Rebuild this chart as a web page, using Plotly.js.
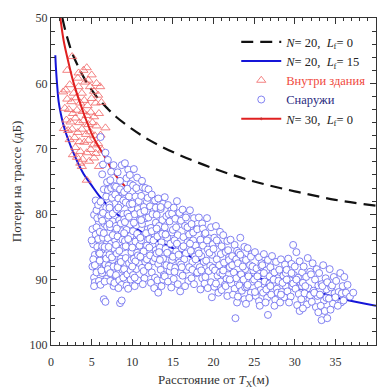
<!DOCTYPE html>
<html>
<head>
<meta charset="utf-8">
<script src="https://cdn.plot.ly/plotly-3.0.1.min.js"></script>
<style>html,body{margin:0;padding:0;background:#fff;}#chart{width:381px;height:389px;}</style>
</head>
<body>
<div id="chart"></div>
<script>
// Curve N=20, Lf=0 (black dashed)
const n20lf0D = [1.4,1.7,2,2.5,3,4,5,6,7,8,10,12,15,20,25,30,35,40];
const n20lf0L = [50,51.6,53,55,56.5,59,61,62.6,63.9,65.1,67,68.6,70.5,73,75,76.5,77.8,78.7];
// Curve N=20, Lf=15 (blue)
const n20lf15D = [0.53,0.6,0.74,0.94,1.2,1.5,2,3,4,5,6,7.75,10,12.7,15,17.2,20,22.1,25,28.3,30,33.2,36,40];
const n20lf15L = [55.7,57.5,60,62.8,64.6,66.2,68.2,71.3,73.8,75.6,77.3,79.6,81.8,83.8,85.2,86.5,87.8,88.6,89.6,90.6,91.2,92.1,93,94];
// Curve N=30, Lf=0 (red)
const n30lf0D = [1.15,1.55,2.0,2.8,4.0,5.2,6.7,7.5,8.1,9.3];
const n30lf0L = [50,53.4,56,60,64.5,68.2,71.4,73.2,74.3,76.0];
// Inside building (triangles)
const insideD = [2.6,2.0,4.0,4.4,5.0,3.3,4.6,5.6,6.05,1.5,1.8,2.3,2.8,3.4,3.8,4.2,4.8,5.3,5.8,2.0,2.5,3.1,3.6,4.1,4.5,5.0,5.5,6.2,1.7,2.2,2.7,3.2,3.9,4.4,4.9,5.3,5.9,1.9,2.4,3.0,3.5,4.0,4.6,5.1,5.6,6.7,2.1,2.6,3.3,3.8,4.3,4.8,5.4,6.1,2.3,2.9,3.5,4.1,4.6,5.2,5.8,3.0,3.6,4.4,4.9,5.5,6.3,3.2,3.9,4.7,5.3,3.6,3.8,5.9,4.4,2.7,1.6,3.4];
const insideL = [55.9,58.0,58.0,57.6,58.7,59.2,59.5,60.0,60.5,61.3,61.0,60.2,61.5,60.5,61.5,59.8,60.5,61.2,61.8,62.4,62.8,62.2,63.0,62.6,63.4,62.3,63.0,62.9,63.8,64.0,64.6,64.1,64.3,64.9,64.4,65.1,64.6,65.6,65.9,65.3,66.0,65.7,66.3,66.0,66.5,66.8,67.2,67.0,67.5,67.0,67.8,67.4,68.0,67.9,68.6,68.3,68.9,69.0,68.7,69.4,69.2,69.8,70.4,70.6,70.1,70.7,70.2,71.3,71.6,71.9,71.4,72.2,72.7,72.7,74.8,70.9,66.9,58.4];
// Outside (circles)
const outsideD = [
5.1,5.3,5.2,5.4,5.1,5.3,5.6,5.5,5.7,5.8,5.4,5.9,5.6,5.2,5.8,5.5,5.9,5.7,5.3,5.9,5.6,5.0,5.8,5.4,
6.1,6.7,6.3,6.5,6.1,6.8,6.2,6.6,6.0,6.4,6.9,6.2,6.7,6.0,6.5,6.3,6.8,6.1,6.6,6.4,6.9,6.3,6.0,6.7,6.2,6.8,6.5,6.9,6.4,6.6,6.5,6.7,6.3,6.8,
7.0,7.3,7.7,7.0,7.5,7.2,7.8,7.1,7.6,7.3,7.9,7.0,7.4,7.8,7.2,7.6,7.1,7.5,7.9,7.3,7.7,7.4,7.9,7.6,7.2,7.9,7.5,7.0,7.8,7.4,7.1,7.6,7.3,7.8,7.2,7.7,
8.7,8.2,8.5,8.0,8.8,8.3,8.6,8.1,8.9,8.4,8.0,8.7,8.2,8.5,8.9,8.1,8.6,8.3,8.8,8.0,8.4,8.7,8.5,8.7,8.3,8.9,8.6,8.0,8.4,8.8,8.2,8.9,8.5,8.1,8.6,8.3,
9.1,9.5,9.3,9.8,9.0,9.6,9.2,9.9,9.4,9.0,9.7,9.3,9.8,9.1,9.5,9.9,9.2,9.6,9.0,9.4,9.8,9.3,9.7,9.1,9.5,9.9,9.4,9.6,9.2,9.8,9.0,9.5,9.7,
10.2,10.6,10.1,10.8,10.4,10.0,10.7,10.3,10.9,10.5,10.1,10.8,10.4,10.0,10.6,10.2,10.9,10.5,10.1,10.7,10.3,10.8,10.2,10.6,10.4,10.9,10.0,10.5,10.7,10.3,
11.3,11.6,11.1,11.8,11.4,11.0,11.7,11.2,11.9,11.5,11.1,11.8,11.4,11.0,11.6,11.2,11.9,11.5,11.3,11.7,11.1,11.5,11.8,11.0,11.4,11.9,11.2,
12.0,12.4,12.8,12.2,12.6,12.0,12.9,12.3,12.7,12.1,12.5,12.9,12.2,12.6,12.0,12.4,12.8,12.3,12.7,12.5,12.1,12.8,12.4,12.9,12.6,
13.2,13.8,13.5,13.0,13.7,13.3,13.9,13.1,13.6,13.4,13.0,13.8,13.2,13.5,13.9,13.1,13.6,13.2,13.7,13.4,13.0,13.8,13.5,13.3,
14.0,14.4,14.8,14.2,14.6,14.0,14.9,14.3,14.7,14.1,14.5,14.9,14.2,14.6,14.0,14.4,14.8,14.5,14.3,14.7,14.1,14.9,
15.5,15.1,15.8,15.3,15.9,15.0,15.6,15.2,15.7,15.4,15.0,15.8,15.3,15.9,15.1,15.6,15.9,15.4,15.7,15.2,15.5,
16.2,16.7,16.0,16.5,16.9,16.3,16.8,16.1,16.6,16.4,16.0,16.7,16.2,16.9,16.5,16.3,16.8,16.1,16.6,
17.1,17.6,17.3,17.9,17.0,17.5,17.8,17.2,17.7,17.4,17.0,17.9,17.3,17.6,17.8,17.1,17.5,17.4,
18.2,18.6,18.0,18.9,18.4,18.7,18.1,18.5,18.8,18.3,18.0,18.6,18.9,18.4,18.2,18.7,18.5,
19.2,19.7,19.0,19.5,19.9,19.3,19.8,19.1,19.6,19.4,19.0,19.7,19.8,19.3,19.5,19.9,19.2,
20.3,20.8,20.1,20.6,20.0,20.9,20.4,20.7,20.2,20.5,20.9,20.1,20.6,20.4,20.8,20.3,
21.2,21.7,21.0,21.5,21.9,21.3,21.8,21.1,21.6,21.4,21.0,21.7,21.9,21.2,21.5,21.8,
22.1,22.6,22.9,22.3,22.7,22.0,22.5,22.8,22.2,22.6,22.4,22.7,22.9,22.3,22.0,22.8,
23.3,23.8,23.1,23.6,23.0,23.9,23.4,23.7,23.2,23.5,23.0,23.8,23.6,23.3,23.9,
24.2,24.7,24.0,24.5,24.9,24.3,24.8,24.1,24.6,24.4,24.0,24.8,24.2,24.6,
25.1,25.6,25.9,25.3,25.7,25.0,25.5,25.8,25.2,25.6,25.4,25.9,25.1,25.7,
26.2,26.7,26.0,26.5,26.9,26.3,26.8,26.1,26.6,26.7,26.4,26.9,26.2,26.5,
27.2,27.7,27.0,27.5,27.9,27.3,27.8,27.1,27.6,27.4,27.9,27.0,27.5,
28.3,28.8,28.1,28.6,28.0,28.9,28.4,28.7,28.2,28.5,28.9,28.3,
29.8,29.2,29.6,29.0,29.9,29.4,29.7,29.1,29.5,29.3,29.8,29.0,29.6,
30.2,30.6,30.0,30.9,30.4,30.7,30.1,30.5,30.8,30.3,30.6,30.9,30.2,
31.6,31.1,31.9,31.4,31.0,31.7,31.2,31.8,31.5,31.3,31.9,31.0,
32.2,32.7,32.0,32.5,32.9,32.3,32.8,32.1,32.6,32.4,32.9,
33.5,33.0,33.8,33.3,33.9,33.1,33.6,33.2,33.3,33.7,33.9,33.4,
34.3,34.8,34.0,34.5,34.9,34.2,34.7,34.0,34.4,34.6,
35.6,35.1,35.9,35.4,35.0,35.7,35.3,35.8,
36.1,36.5,36.3,36.8,36.0,
37.2];
const outsideL = [
82.3,80.1,84.6,86.2,88.0,89.7,79.4,83.1,85.0,87.4,90.4,81.2,88.9,86.9,83.8,77.9,90.2,80.6,91.0,85.9,82.0,84.0,78.6,87.8,
68.2,70.6,73.9,76.2,78.1,79.0,80.4,81.5,82.7,83.6,84.4,85.5,86.3,87.1,88.2,89.0,89.9,90.8,90.3,79.8,81.9,84.9,86.0,87.7,88.6,77.3,82.9,75.1,72.4,85.0,93.0,93.4,81.0,86.8,
71.7,74.8,72.5,76.3,77.5,78.6,79.4,80.2,81.1,82.0,82.8,83.7,84.5,85.3,86.2,87.0,87.9,88.7,89.4,90.2,91.0,76.0,77.0,79.9,81.5,84.0,86.6,88.4,90.5,73.5,85.0,83.2,89.0,75.7,79.0,88.0,
72.5,73.6,74.9,75.8,76.7,77.6,78.5,79.3,80.0,80.9,81.8,82.6,83.4,84.3,85.1,86.0,86.8,87.7,88.5,89.3,90.1,90.8,93.6,93.2,79.0,77.9,81.4,84.7,85.6,83.9,88.1,89.7,76.2,82.2,87.3,91.3,
72.2,73.2,74.5,75.4,76.6,77.3,78.2,79.1,79.9,80.8,81.6,82.4,83.3,84.1,85.0,85.8,86.7,87.5,88.4,89.2,90.0,90.9,78.5,81.2,83.8,87.0,76.1,80.4,84.9,88.6,82.9,91.4,74.0,
73.1,74.4,75.6,76.5,77.3,78.4,79.2,80.0,80.9,81.7,82.6,83.4,84.2,85.1,85.9,86.8,87.6,88.4,89.3,90.1,91.0,78.0,81.3,83.0,87.2,84.8,88.0,76.0,86.3,89.7,
75.9,76.0,77.2,78.1,78.9,79.8,80.6,81.5,82.3,83.1,84.0,84.8,85.7,86.5,87.3,88.2,89.0,89.8,90.7,82.9,80.9,79.5,86.9,83.6,88.7,77.5,74.9,
76.2,77.0,77.9,78.8,79.6,80.5,81.3,82.1,83.0,83.8,84.7,85.5,86.3,87.2,88.0,88.9,89.7,90.5,91.3,80.0,85.1,86.7,82.6,79.0,84.0,
77.6,78.4,79.2,80.1,80.9,81.8,82.6,83.4,84.3,85.1,86.0,86.8,87.6,88.5,89.3,90.1,91.0,92.0,83.0,87.0,82.2,90.0,78.9,85.8,
77.4,78.6,79.4,80.3,81.1,82.0,82.8,83.6,84.5,85.3,86.1,87.0,87.8,88.7,89.5,90.3,91.2,80.0,85.9,88.0,83.1,79.9,
78.0,79.0,79.8,80.7,81.5,82.4,83.2,84.0,84.9,85.7,86.5,87.4,88.2,89.0,89.9,90.7,91.8,82.0,86.2,88.8,84.5,
79.3,80.1,81.0,81.8,82.7,83.5,84.3,85.2,86.0,86.9,87.7,88.5,89.4,90.2,91.0,84.9,82.0,88.1,80.5,
79.4,80.6,81.5,82.3,83.1,84.0,84.8,85.6,86.5,87.3,88.1,89.0,89.8,90.7,86.9,84.5,82.8,88.5,
80.5,81.4,82.3,83.1,83.9,84.8,85.6,86.4,87.3,88.1,88.9,89.8,90.6,91.5,86.0,82.2,88.6,
80.6,82.0,82.9,83.7,84.6,85.4,86.2,87.1,87.9,88.7,89.6,90.4,92.7,91.3,85.9,88.2,84.0,
81.8,82.7,83.6,84.4,85.3,86.1,86.9,87.8,88.6,89.4,90.3,91.1,92.0,84.0,88.9,90.6,
83.2,84.1,84.9,85.8,86.6,87.4,88.3,89.1,89.9,90.8,91.6,92.5,87.0,88.6,91.0,85.5,
83.9,84.7,85.6,86.4,87.2,88.1,88.9,89.8,90.6,91.4,92.3,95.9,93.5,87.8,90.0,86.9,
83.6,85.0,85.9,86.7,87.5,88.4,89.2,90.0,90.9,91.7,92.6,93.0,88.0,86.2,91.2,
85.2,86.1,87.0,87.8,88.6,89.5,90.3,91.1,92.0,92.8,93.7,88.0,90.8,86.5,
85.8,86.6,87.5,88.3,89.1,90.0,90.8,91.6,92.5,93.3,89.5,88.0,91.9,94.0,
86.1,87.0,87.8,88.6,89.5,90.3,91.1,92.0,92.8,95.4,93.5,90.6,89.0,91.5,
86.4,87.3,88.1,88.9,89.8,90.6,91.4,92.3,93.1,90.0,92.0,91.0,94.0,
86.9,87.7,88.5,89.4,90.2,91.0,91.9,92.7,93.5,90.5,89.0,92.3,
84.7,86.8,87.6,88.5,89.3,90.1,91.0,91.8,92.6,93.5,90.6,90.0,89.0,
85.8,87.2,88.0,88.9,89.7,90.5,91.4,92.2,93.0,93.9,94.8,91.0,90.0,
86.7,88.0,88.8,89.6,90.5,91.3,92.1,93.0,93.8,91.0,92.4,94.4,
87.5,88.4,89.2,90.0,90.9,91.7,92.5,93.4,94.2,92.0,95.0,
87.8,89.0,89.8,90.7,91.5,92.3,93.2,94.0,96.2,94.8,92.8,91.0,
88.4,89.6,90.4,91.2,92.1,92.9,93.7,95.9,94.6,90.9,
89.0,90.2,91.0,91.9,92.7,93.5,94.0,92.1,
89.6,90.8,92.0,92.6,93.2,
92.0];
// Legend labels
const labelN20Lf0 = '<i>N</i>= 20,&nbsp; <i>L</i><sub>f</sub>= 0';
const labelN20Lf15 = '<i>N</i>= 20,&nbsp; <i>L</i><sub>f</sub>= 15';
const labelInside = '<span style="color:#f04a40">Внутри здания</span>';
const labelOutside = '<span style="color:#2b2b80">Снаружи</span>';
const labelN30Lf0 = '<i>N</i>= 30,&nbsp; <i>L</i><sub>f</sub>= 0';

const serif = 'Liberation Serif';

const redDotSizes = n30lf0D.map((d, i) => (i === 7 || i === n30lf0D.length - 1) ? 3 : 0);

const traces = [
  {x: n20lf0D, y: n20lf0L, type: 'scatter', mode: 'lines', name: labelN20Lf0, legendrank: 1,
   line: {color: '#111', width: 2.2, dash: '12px,7px', shape: 'spline'}},
  {x: n20lf15D, y: n20lf15L, type: 'scatter', mode: 'lines', name: labelN20Lf15, legendrank: 2,
   line: {color: '#1515d8', width: 2, shape: 'spline'}},
  {x: insideD, y: insideL, type: 'scatter', mode: 'markers', name: labelInside, legendrank: 3,
   marker: {symbol: 'triangle-up-open', size: 8, color: 'rgba(240,100,100,0.8)', line: {width: 1}}},
  {x: n30lf0D, y: n30lf0L, type: 'scatter', mode: 'lines+markers', name: labelN30Lf0, legendrank: 5,
   line: {color: '#e02020', width: 2, shape: 'spline'},
   marker: {size: redDotSizes, color: '#666'}},
  {x: outsideD, y: outsideL, type: 'scatter', mode: 'markers', name: labelOutside, legendrank: 4,
   marker: {symbol: 'circle', size: 7, color: '#ffffff', line: {color: 'rgba(100,100,238,0.8)', width: 1}}}
];

const axisCommon = {
  showline: true, linecolor: '#333', linewidth: 1, mirror: 'allticks',
  ticks: 'inside', ticklen: 6, tickwidth: 1, tickcolor: '#333',
  showgrid: false, zeroline: false,
  tickfont: {family: serif, size: 12, color: '#333'}
};

const layout = {
  width: 381, height: 389,
  margin: {l: 51, r: 5, t: 18, b: 44},
  paper_bgcolor: '#fff', plot_bgcolor: '#fff',
  font: {family: serif},
  showlegend: true,
  legend: {x: 0.57, y: 0.972, xanchor: 'left', yanchor: 'top', bgcolor: 'rgba(0,0,0,0)',
           font: {family: serif, size: 12.5, color: '#222'}, itemwidth: 40, tracegroupgap: 0},
  xaxis: Object.assign({}, axisCommon, {
    range: [0, 40], dtick: 5, tick0: 0, ticklabelstandoff: 6,
    minor: {dtick: 1, ticks: 'inside', ticklen: 3, tickcolor: '#333'},
    title: {text: 'Расстояние от <i>T</i><sub>X</sub>(м)', font: {family: serif, size: 13, color: '#333'}, standoff: 12}
  }),
  yaxis: Object.assign({}, axisCommon, {
    range: [100, 50], dtick: 10, tick0: 50,
    minor: {dtick: 2, ticks: 'inside', ticklen: 4, tickcolor: '#333'},
    title: {text: 'Потери на трассе (дБ)', font: {family: serif, size: 13, color: '#333'}, standoff: 5}
  })
};

Plotly.newPlot('chart', traces, layout, {displayModeBar: false, staticPlot: true});
</script>
</body>
</html>
